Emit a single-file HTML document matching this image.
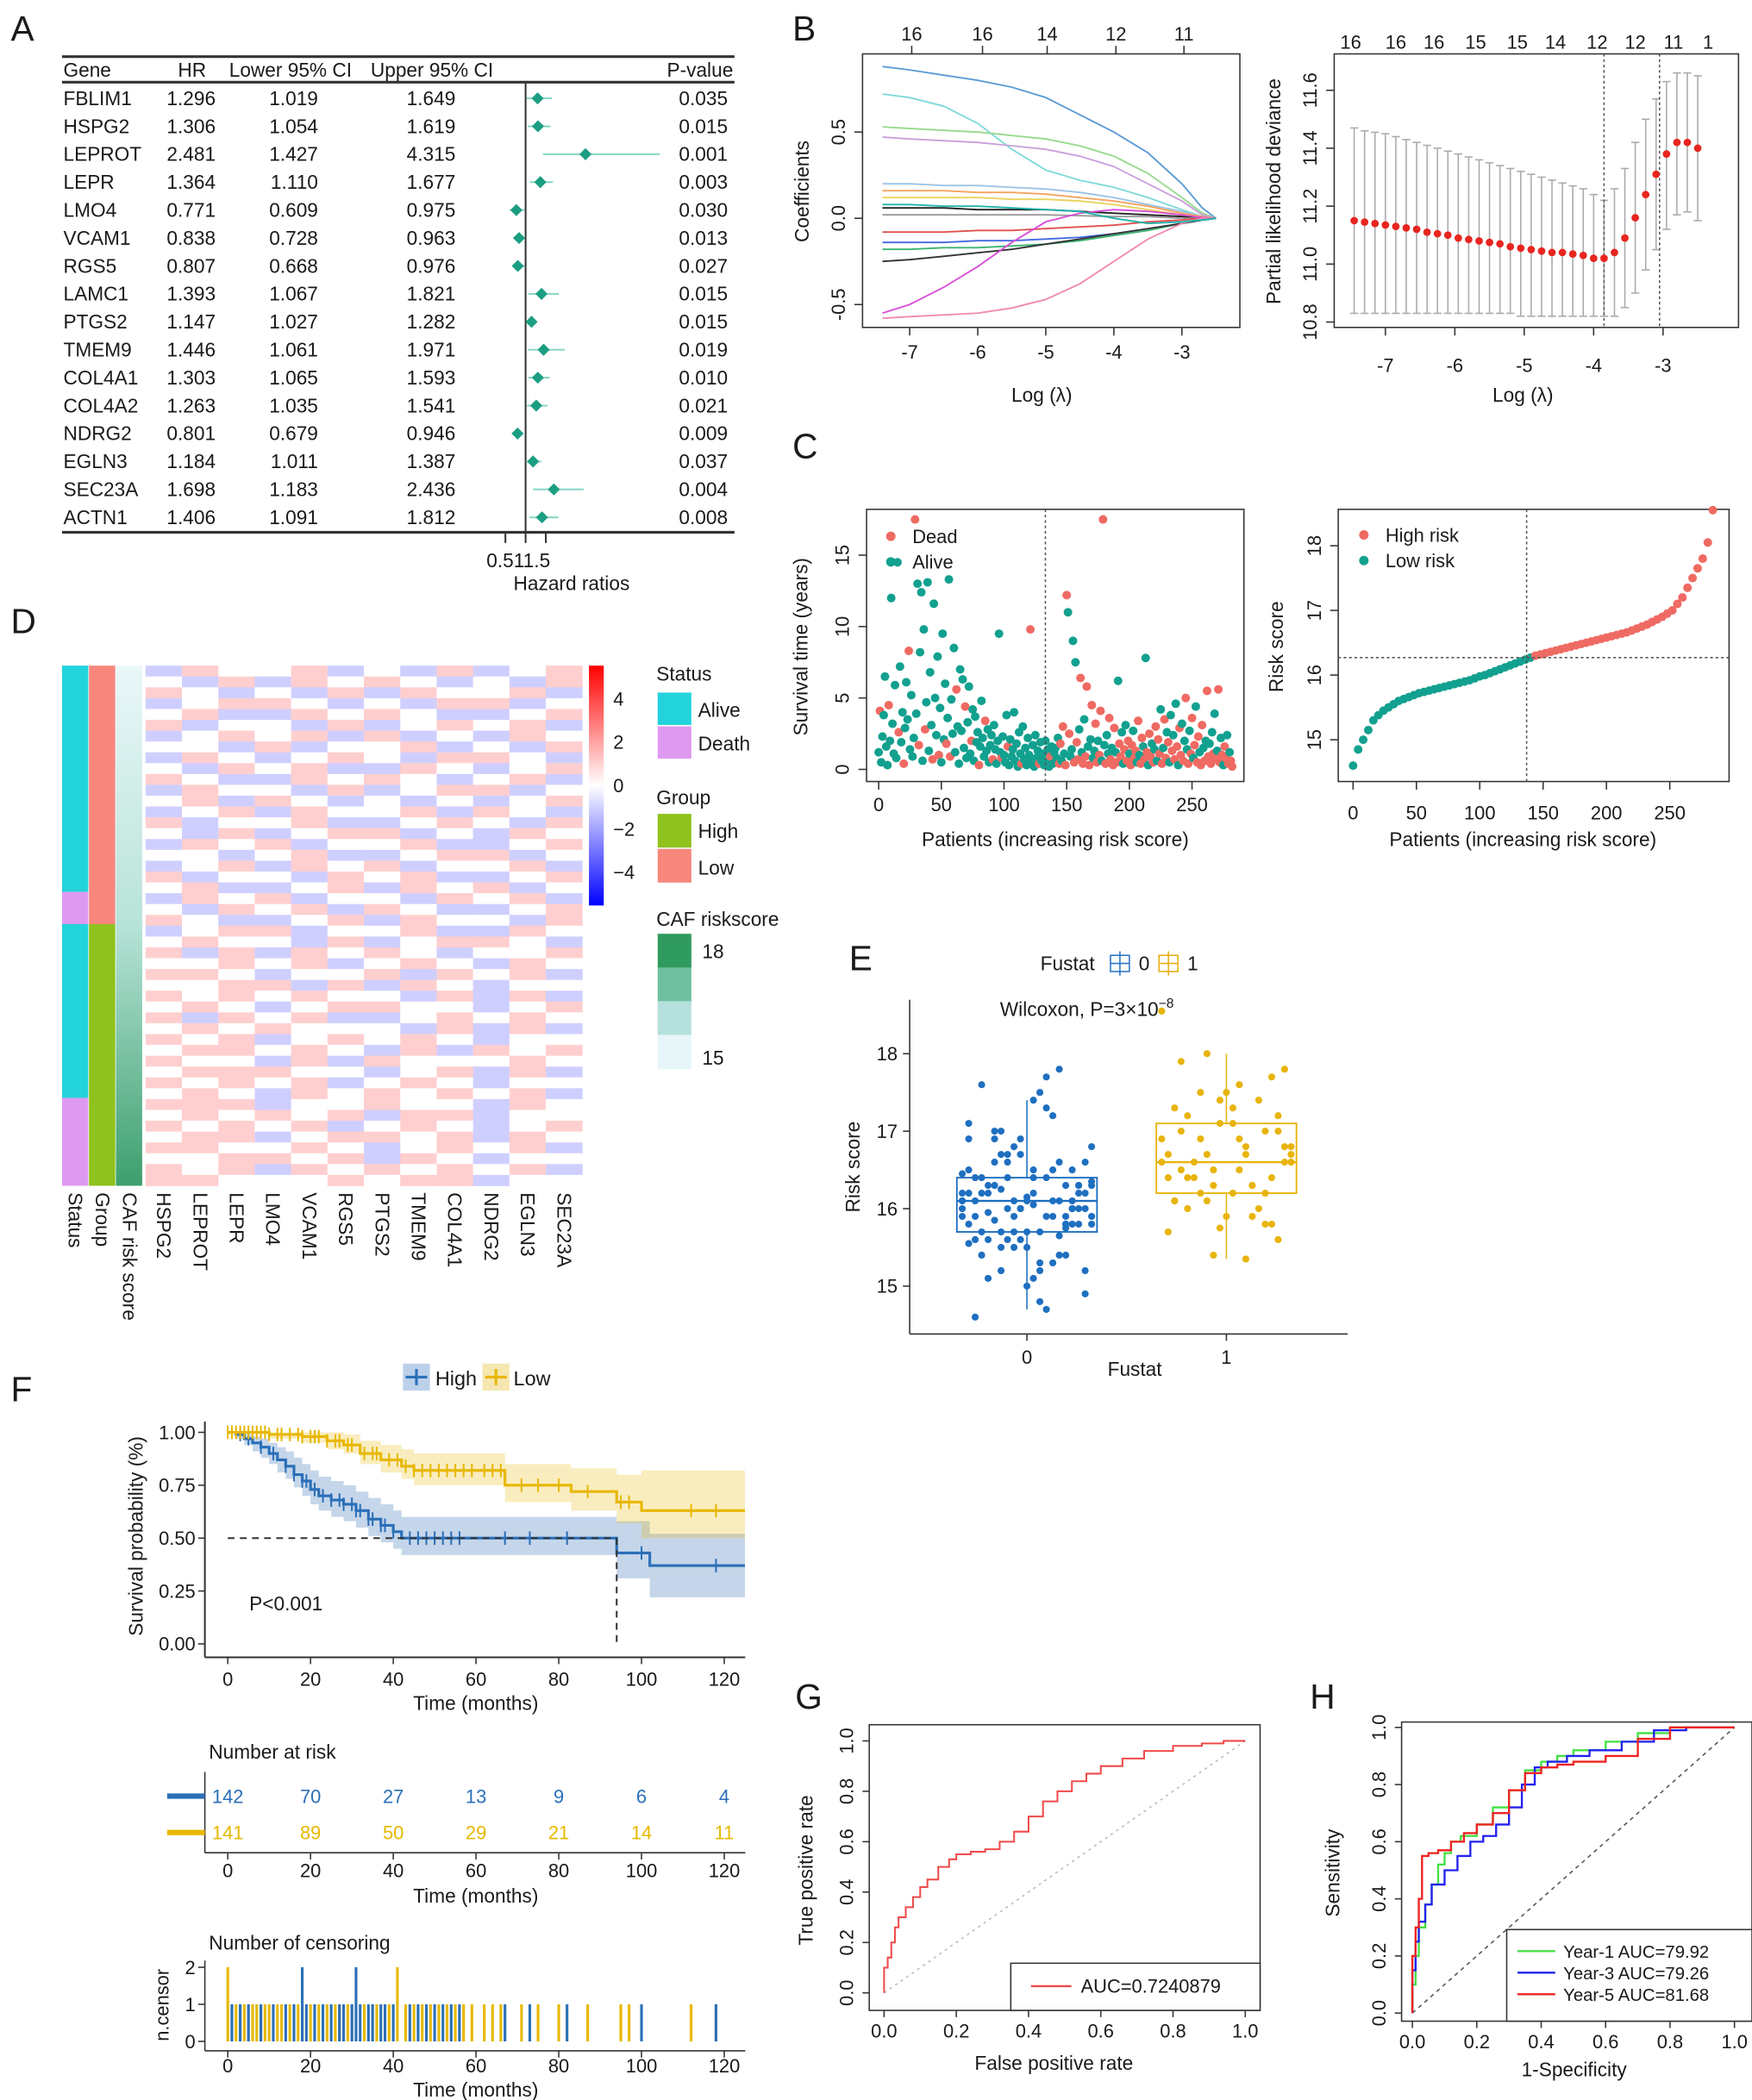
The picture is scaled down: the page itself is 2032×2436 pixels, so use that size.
<!DOCTYPE html>
<html><head><meta charset="utf-8"><style>
html,body{margin:0;padding:0;background:#fff;}
svg{display:block;font-family:"Liberation Sans",Arial,sans-serif;}
</style></head><body>
<svg id="fig" width="2032" height="2436" viewBox="0 0 1300 1558.5" xmlns="http://www.w3.org/2000/svg">
<rect x="0" y="0" width="1300" height="1558.5" fill="#fff"/>
</svg>
<script>
// ---------- DATA ----------
// Panel A
const genes=["FBLIM1","HSPG2","LEPROT","LEPR","LMO4","VCAM1","RGS5","LAMC1","PTGS2","TMEM9","COL4A1","COL4A2","NDRG2","EGLN3","SEC23A","ACTN1"];
const hrVals=[1.296,1.306,2.481,1.364,0.771,0.838,0.807,1.393,1.147,1.446,1.303,1.263,0.801,1.184,1.698,1.406];
const ciLow=[1.019,1.054,1.427,1.110,0.609,0.728,0.668,1.067,1.027,1.061,1.065,1.035,0.679,1.011,1.183,1.091];
const ciUp=[1.649,1.619,4.315,1.677,0.975,0.963,0.976,1.821,1.282,1.971,1.593,1.541,0.946,1.387,2.436,1.812];
const pVals=["0.035","0.015","0.001","0.003","0.030","0.013","0.027","0.015","0.015","0.019","0.010","0.021","0.009","0.037","0.004","0.008"];
// Panel B left
const lamGrid=[-7.4,-7,-6.5,-6,-5.5,-5,-4.5,-4,-3.5,-3,-2.7,-2.5];
const coefPaths=[
[0.88,0.86,0.83,0.8,0.76,0.7,0.6,0.5,0.38,0.2,0.06,0],
[0.72,0.7,0.65,0.55,0.4,0.28,0.22,0.18,0.12,0.05,0.01,0],
[0.53,0.52,0.51,0.5,0.48,0.46,0.42,0.36,0.26,0.12,0.03,0],
[0.47,0.46,0.45,0.44,0.42,0.4,0.36,0.3,0.2,0.1,0.02,0],
[0.2,0.2,0.19,0.19,0.18,0.17,0.15,0.12,0.08,0.04,0.01,0],
[0.16,0.16,0.16,0.15,0.15,0.14,0.12,0.1,0.07,0.03,0.01,0],
[0.12,0.12,0.12,0.12,0.11,0.11,0.1,0.08,0.05,0.02,0.005,0],
[0.06,0.06,0.06,0.05,0.05,0.05,0.04,0.03,0.02,0.01,0,0],
[0.02,0.02,0.02,0.02,0.02,0.02,0.015,0.01,0.01,0,0,0],
[-0.08,-0.08,-0.08,-0.07,-0.07,-0.06,-0.05,-0.04,-0.02,-0.01,0,0],
[-0.14,-0.14,-0.14,-0.13,-0.13,-0.12,-0.11,-0.09,-0.06,-0.03,-0.01,0],
[-0.18,-0.18,-0.17,-0.17,-0.16,-0.15,-0.13,-0.1,-0.07,-0.03,-0.01,0],
[-0.25,-0.24,-0.22,-0.2,-0.18,-0.15,-0.12,-0.09,-0.06,-0.03,-0.01,0],
[-0.55,-0.5,-0.4,-0.28,-0.14,-0.02,0.03,0.05,0.04,0.02,0.005,0],
[-0.58,-0.57,-0.56,-0.55,-0.52,-0.47,-0.38,-0.25,-0.12,-0.03,0,0],
[0.08,0.08,0.07,0.07,0.06,0.05,0.04,0.0,-0.03,-0.02,-0.01,0]];
const coefColors=["#5b9bd5","#7fd9d9","#98d98e","#c9a0dc","#9cc3e6","#f4a460","#e8d35c","#222","#999","#e05050","#4169e1","#3cb371","#333","#d84fd8","#f08ab4","#20b2aa"];
const topDfLeft=["16","16","14","12","11"];
const topDfLeftLam=[-6.97,-5.93,-4.98,-3.97,-2.97];
// Panel B right
const cvLam=[-7.45,-7.3,-7.15,-7.0,-6.85,-6.7,-6.55,-6.4,-6.25,-6.1,-5.95,-5.8,-5.65,-5.5,-5.35,-5.2,-5.05,-4.9,-4.75,-4.6,-4.45,-4.3,-4.15,-4.0,-3.85,-3.7,-3.55,-3.4,-3.25,-3.1,-2.95,-2.8,-2.65,-2.5];
const cvMean=[11.15,11.145,11.14,11.135,11.13,11.125,11.12,11.11,11.105,11.10,11.09,11.085,11.08,11.075,11.07,11.06,11.055,11.05,11.045,11.04,11.04,11.035,11.03,11.02,11.02,11.04,11.09,11.16,11.24,11.31,11.38,11.42,11.42,11.40];
const cvUp=[11.47,11.46,11.455,11.45,11.44,11.43,11.42,11.41,11.40,11.39,11.38,11.37,11.36,11.35,11.34,11.33,11.32,11.31,11.30,11.29,11.28,11.27,11.26,11.24,11.22,11.26,11.33,11.42,11.5,11.57,11.63,11.66,11.66,11.65];
const cvLo=[10.83,10.83,10.83,10.83,10.83,10.83,10.83,10.83,10.83,10.83,10.83,10.83,10.83,10.83,10.83,10.83,10.82,10.82,10.82,10.82,10.82,10.82,10.82,10.82,10.82,10.82,10.85,10.9,10.98,11.05,11.12,11.17,11.18,11.15];
const topDfRight=["16","16","16","15","15","14","12","12","11","1"];
const topDfRightLam=[-7.5,-6.85,-6.3,-5.7,-5.1,-4.55,-3.95,-3.4,-2.85,-2.35];
const cvMinLam=-3.85, cv1seLam=-3.05;
// Panel C
const survTimes=("1.2 4.1 0.5 2.3 3.8 6.5 1.6 0.3 4.5 2.0 12.0 3.2 1.1 5.9 0.8 14.5 2.6 7.2 1.9 4.0 0.4 2.9 6.1 3.5 8.3 1.4 5.2 0.9 2.2 17.5 "+
"3.9 13.0 1.7 8.2 12.4 0.6 9.8 2.8 4.7 13.1 1.3 6.8 3.1 0.7 11.6 5.0 2.4 7.9 1.0 4.3 0.5 9.5 2.1 6.0 1.8 3.6 13.3 0.9 4.9 2.5 "+
"8.5 1.2 5.6 3.0 0.4 7.0 2.7 6.3 1.5 4.4 0.8 3.3 5.8 1.1 2.0 4.2 0.6 3.7 1.9 2.6 0.3 1.6 4.8 2.2 0.9 3.4 1.3 2.8 0.5 1.7 "+
"2.4 0.7 3.1 1.4 0.4 2.0 9.5 1.2 0.8 2.3 1.0 0.5 3.8 1.6 0.3 2.1 0.9 1.4 4.0 0.6 1.8 0.2 2.6 1.1 0.4 3.0 0.7 1.5 0.3 2.2 "+
"1.0 9.8 0.5 1.7 0.2 2.4 0.8 1.3 0.4 1.9 0.6 1.1 0.3 2.0 0.5 1.4 0.2 0.9 1.6 0.4 1.2 "+
"1.5 0.8 2.2 0.4 1.8 0.6 3.0 1.1 0.3 12.2 11.0 2.5 0.9 1.4 9.0 0.5 7.5 1.9 0.7 2.8 6.4 1.2 0.4 3.5 0.9 5.8 1.6 0.3 2.1 4.5 "+
"0.8 1.3 3.2 0.5 2.0 1.0 4.1 0.6 17.5 1.7 0.4 2.4 1.1 3.6 0.7 1.5 0.3 2.9 1.2 0.5 6.2 1.8 0.9 2.6 0.4 1.4 3.1 0.6 2.0 1.1 "+
"0.3 1.7 2.7 0.8 1.3 0.5 3.4 1.0 0.4 2.2 1.6 0.7 7.8 1.2 0.3 2.5 0.9 1.8 0.5 1.4 3.0 0.6 2.1 1.1 4.2 0.4 1.5 3.5 0.8 2.6 "+
"1.9 0.5 3.8 1.3 2.4 0.7 4.6 1.6 0.3 2.9 1.0 3.2 0.6 2.0 5.0 1.4 0.4 2.7 1.1 3.6 0.8 1.7 4.4 0.5 2.3 1.2 0.3 3.1 1.5 0.6 "+
"2.0 5.5 0.9 1.8 0.4 2.6 1.1 3.9 0.7 1.3 5.6 0.5 2.2 1.0 0.3 1.6 0.8 2.4 0.4 1.2 0.6 0.2").split(" ").map(Number);
const survStatus=("0100000010000000100010001000010010000100000100001000001001000010000001000010000010000100000100000010000100000000001000000100000010000000010000001"+
"1010110100010110101011010100110110101001101101011001011011011010110101011010101101011010010101011010101011010110110101101010101101011010110101").split("").map(Number);
const cutIdx=141;
const riskSorted=[14.6,14.85,15.0,15.15,15.3,15.38,15.45,15.5,15.55,15.6,15.63,15.66,15.69,15.72,15.74,15.76,15.78,15.80,15.82,15.84,15.86,15.88,15.90,15.92,15.95,15.98,16.0,16.03,16.06,16.09,16.12,16.15,16.18,16.21,16.24,16.27,16.3,16.32,16.34,16.36,16.38,16.40,16.42,16.44,16.46,16.48,16.50,16.52,16.54,16.56,16.58,16.60,16.62,16.64,16.66,16.69,16.72,16.75,16.78,16.82,16.86,16.9,16.95,17.0,17.1,17.2,17.35,17.5,17.65,17.8,18.05,18.55];
const riskCut=16.27;
// Panel D
const heatGenes=["HSPG2","LEPROT","LEPR","LMO4","VCAM1","RGS5","PTGS2","TMEM9","COL4A1","NDRG2","EGLN3","SEC23A"];
const heatRows=["354453435345","435354543435","543435354453","345543435534","453354543345","534435345453","345453534354","443534453435","354345435543","435453354345",
"543354543453","354435345534","453543434345","345354453543","534453345435","435345534354","354534453345","443453345534","345354534453","534435453345",
"453345354534","354534435453","435453543345","543345354435","345534453354","454435345543","535354543445","445453454354","554344535453","445535354344",
"545454435353","454345544345","535453345454","454544435353","545345454344","455454353545","544353544454","455544345353","545453454344","454354545453",
"555344544354","454545355344","545453454345","455345545354","554454345453","445545354344","545354545453","554445455344"];
const statusSegs=[["Alive",0,0.435],["Death",0.435,0.497],["Alive",0.497,0.831],["Death",0.831,1]];
const groupSegs=[["Low",0,0.497],["High",0.497,1]];
const heatTicks=[4,2,0,-2,-4];
// Panel E
const fust0=("16.1 15.8 16.4 15.5 16.9 16.0 15.2 16.6 15.9 16.3 17.3 15.7 16.2 14.9 16.5 16.0 15.6 16.8 15.4 16.1 17.0 15.9 16.3 15.1 16.7 16.2 15.8 17.5 15.6 16.4 "+
"16.0 14.7 16.1 15.7 16.6 15.3 16.9 16.2 15.9 17.8 15.5 16.3 16.0 15.8 16.5 15.2 17.1 16.1 15.7 16.4 14.6 16.2 15.9 16.8 15.4 16.0 17.2 15.6 16.3 15.8 "+
"16.1 15.0 16.6 16.2 15.9 17.4 15.7 16.5 16.0 15.3 16.7 16.1 15.8 16.4 15.5 17.6 16.2 15.9 16.0 15.1 16.3 16.6 15.7 16.9 16.1 15.4 16.2 17.0 15.8 16.5 "+
"14.8 16.0 15.6 16.3 17.7 15.9 16.4 15.2 16.1 16.7 15.95 16.35 15.65 16.15 15.85 16.45 15.75 16.05 16.25 15.55").split(" ").map(Number);
const fust1=("16.6 17.0 16.2 17.5 16.4 15.8 16.9 18.0 16.1 17.2 16.7 15.4 16.5 17.8 16.3 17.1 16.0 16.8 17.4 15.9 16.6 18.55 16.2 17.3 16.9 15.7 16.4 17.6 16.7 16.1 "+
"17.0 15.35 16.5 17.9 16.8 16.3 15.75 17.2 16.6 16.0 17.5 16.4 16.9 15.8 17.1 16.2 16.7 17.7 16.5 16.1 17.3 15.6 16.8 16.3 17.0 16.6 15.9 17.4 16.4 16.7").split(" ").map(Number);
// Panel F
const highT=[0,2,4,6,8,10,12,14,16,18,20,22,25,28,31,34,37,40,42,94,102];
const highS=[1,0.99,0.97,0.95,0.93,0.9,0.87,0.84,0.8,0.77,0.73,0.7,0.68,0.66,0.63,0.59,0.56,0.53,0.5,0.43,0.37];
const highLo=[1,0.97,0.94,0.91,0.88,0.85,0.81,0.78,0.74,0.7,0.66,0.63,0.6,0.58,0.55,0.51,0.48,0.45,0.42,0.31,0.22];
const highHi=[1,1,0.99,0.98,0.97,0.95,0.93,0.91,0.88,0.85,0.82,0.79,0.77,0.75,0.72,0.69,0.66,0.63,0.6,0.58,0.52];
const lowT=[0,10,18,24,28,32,37,42,45,67,83,94,100];
const lowS=[1,0.99,0.98,0.96,0.94,0.9,0.87,0.84,0.82,0.75,0.72,0.67,0.63];
const lowLo=[1,0.97,0.95,0.92,0.9,0.85,0.81,0.78,0.75,0.67,0.63,0.57,0.5];
const lowHi=[1,1,1,1,0.99,0.96,0.94,0.92,0.9,0.85,0.83,0.8,0.82];
const censHigh=[1,3,5,8,11,14,16,18,19,21,23,25,27,28,30,31,32,34,35,37,38,40,44,46,48,50,52,54,56,67,73,82,100,118];
const censHighN=[1,1,1,1,1,1,1,2,1,1,1,1,1,1,1,2,1,1,1,1,1,1,1,1,1,1,1,1,1,1,1,1,1,1];
const censLow=[0,1,2,3,4,5,6,7,8,9,10,12,13,15,17,18,20,21,22,24,26,27,29,30,33,35,36,39,41,43,45,47,49,51,53,55,57,59,62,64,66,71,75,80,87,95,97,112,118];
const censLowN=[2,1,1,1,1,1,1,1,1,1,1,1,1,1,1,1,1,1,1,1,1,1,1,1,1,1,1,1,2,1,1,1,1,1,1,1,1,1,1,1,1,1,1,1,1,1,1,1,1];
const riskTimes=[0,20,40,60,80,100,120];
const atRiskHigh=[142,70,27,13,9,6,4];
const atRiskLow=[141,89,50,29,21,14,11];
// Panel G
const gFpr=[0,0,0.01,0.02,0.03,0.04,0.06,0.08,0.1,0.12,0.15,0.18,0.2,0.24,0.28,0.32,0.36,0.4,0.44,0.48,0.52,0.56,0.6,0.66,0.72,0.8,0.88,0.94,1];
const gTpr=[0,0.04,0.1,0.14,0.2,0.26,0.3,0.34,0.38,0.42,0.45,0.5,0.53,0.55,0.56,0.57,0.6,0.64,0.7,0.76,0.8,0.84,0.87,0.9,0.93,0.96,0.98,0.99,1];
// Panel H
const y1Fpr=[0,0.01,0.02,0.04,0.06,0.08,0.1,0.12,0.15,0.2,0.25,0.3,0.35,0.4,0.45,0.5,0.6,0.7,0.8,0.9,1];
const y1Tpr=[0,0.1,0.2,0.3,0.38,0.45,0.52,0.56,0.6,0.62,0.66,0.72,0.78,0.85,0.88,0.9,0.92,0.95,0.98,1,1];
const y3Fpr=[0,0.01,0.02,0.04,0.06,0.1,0.14,0.18,0.22,0.26,0.3,0.34,0.38,0.42,0.48,0.55,0.65,0.75,0.85,1];
const y3Tpr=[0,0.15,0.25,0.32,0.38,0.45,0.5,0.55,0.6,0.62,0.66,0.72,0.8,0.86,0.88,0.9,0.92,0.95,0.99,1];
const y5Fpr=[0,0.01,0.02,0.03,0.05,0.08,0.12,0.16,0.2,0.25,0.3,0.35,0.4,0.45,0.5,0.6,0.7,0.8,0.9,1];
const y5Tpr=[0,0.2,0.3,0.4,0.55,0.56,0.57,0.6,0.63,0.66,0.7,0.78,0.84,0.86,0.87,0.88,0.9,0.96,1,1];
const xTicks01=[0,0.2,0.4,0.6,0.8,1.0];

// ---------- HELPERS ----------
const NS='http://www.w3.org/2000/svg';
const svg=document.getElementById('fig');
function E(tag,a,name,p){
  const e=document.createElementNS(NS,tag);
  for(const k in a) e.setAttribute(k,a[k]);
  
  
  (p||svg).appendChild(e);
  return e;
}
function T(x,y,s,fs,name,extra){
  const e=E('text',Object.assign({x:x,y:y,'font-size':fs,fill:'#1a1a1a'},extra||{}),name);
  e.textContent=s;
  return e;
}
function TR(x,y,s,fs,name,extra){
  return T(x,y,s,fs,name,Object.assign({'text-anchor':'middle',transform:'rotate(-90 '+x+' '+y+')'},extra||{}));
}
function L(x1,y1,x2,y2,name,st,w,extra){
  return E('line',Object.assign({x1:x1,y1:y1,x2:x2,y2:y2,stroke:st||'#333','stroke-width':w||1},extra||{}),name);
}
function P(d,name,extra){return E('path',Object.assign({d:d,fill:'none'},extra||{}),name);}
function C(cx,cy,r,fill,name){return E('circle',{cx:cx,cy:cy,r:r,fill:fill},name);}
function label(x,y,s){return T(x,y,s,26,'panel-label-'+s);}

// ---------- PANEL A ----------
label(8,30,'A');
L(46,42,545,42,'table-top-rule','#333',2);
L(46,61,545,61,'table-header-rule','#333',2);
L(46,395,545,395,'table-bottom-rule','#333',2);
T(47,57,'Gene',14.5,'col-header-gene');
T(153,57,'HR',14.5,'col-header-hr',{'text-anchor':'end'});
T(170,57,'Lower 95% CI',14.5,'col-header-lower');
T(275,57,'Upper 95% CI',14.5,'col-header-upper');
T(544,57,'P-value',14.5,'col-header-pvalue',{'text-anchor':'end'});
const fx=v=>390+(v-1)*30;
L(fx(1),61,fx(1),395,'forest-reference-line','#333',1.3);
genes.forEach((g,i)=>{
  const y=78+i*20.73;
  T(47,y,g,14.5,'gene-'+g);
  T(160,y,hrVals[i].toFixed(3),14.5,'hr-'+g,{'text-anchor':'end'});
  T(236,y,ciLow[i].toFixed(3),14.5,'lower-ci-'+g,{'text-anchor':'end'});
  T(338,y,ciUp[i].toFixed(3),14.5,'upper-ci-'+g,{'text-anchor':'end'});
  T(540,y,pVals[i],14.5,'pvalue-'+g,{'text-anchor':'end'});
  const cy=y-5;
  L(fx(ciLow[i]),cy,fx(ciUp[i]),cy,'ci-bar-'+g,'#7fd3c0',1.2);
  const cx=fx(hrVals[i]);
  E('polygon',{points:(cx-4.5)+','+cy+' '+cx+','+(cy-4.5)+' '+(cx+4.5)+','+cy+' '+cx+','+(cy+4.5),fill:'#1b9e82'},'hr-marker-'+g);
});
[0.5,1,1.5].forEach(v=>L(fx(v),395,fx(v),403,'forest-tick-'+v,'#333',1.3));
T(361,421,'0.511.5',14.5,'forest-tick-labels');
T(381,438,'Hazard ratios',14.5,'forest-axis-title');

// ---------- PANEL B ----------
label(588,30,'B');
(function(){
  const x=l=>675+(l+7)*50.5, y=v=>162-v*128;
  E('rect',{x:640,y:40,width:280,height:203,fill:'none',stroke:'#333','stroke-width':1},'lasso-coef-frame');
  coefPaths.forEach((p,k)=>{
    P(p.map((v,i)=>(i?'L':'M')+x(lamGrid[i]).toFixed(1)+','+y(v).toFixed(1)).join(''),'coef-path-'+(k+1),{stroke:coefColors[k],'stroke-width':1.2});
  });
  [-7,-6,-5,-4,-3].forEach(t=>{L(x(t),243,x(t),249,'coef-xtick');T(x(t),266,String(t),14,'coef-xtick-label',{'text-anchor':'middle'});});
  [0.5,0,-0.5].forEach(t=>{L(640,y(t),634,y(t),'coef-ytick');TR(627,y(t),t.toFixed(1),14,'coef-ytick-label');});
  topDfLeftLam.forEach((l,i)=>{L(x(l),40,x(l),34,'coef-top-tick');T(x(l),30,topDfLeft[i],14,'coef-top-label',{'text-anchor':'middle'});});
  T(773,298,'Log (λ)',14.5,'coef-x-title',{'text-anchor':'middle'});
  TR(600,142,'Coefficients',14.5,'coef-y-title');
})();
(function(){
  const x=l=>1028+(l+7)*51.5, y=v=>196-(v-11)*215;
  E('rect',{x:990,y:40,width:300,height:203,fill:'none',stroke:'#333','stroke-width':1},'cv-frame');
  cvLam.forEach((l,i)=>{
    const xx=x(l);
    L(xx,y(cvLo[i]),xx,y(cvUp[i]),'cv-errorbar','#aaa',1);
    L(xx-3,y(cvLo[i]),xx+3,y(cvLo[i]),'cv-errorbar-cap','#aaa',1);
    L(xx-3,y(cvUp[i]),xx+3,y(cvUp[i]),'cv-errorbar-cap','#aaa',1);
  });
  L(x(cvMinLam),40,x(cvMinLam),243,'cv-lambda-min-line','#555',1,{'stroke-dasharray':'2,2'});
  L(x(cv1seLam),40,x(cv1seLam),243,'cv-lambda-1se-line','#555',1,{'stroke-dasharray':'2,2'});
  cvLam.forEach((l,i)=>C(x(l),y(cvMean[i]),2.8,'#e8251f','cv-mean-point'));
  [-7,-6,-5,-4,-3].forEach(t=>{L(x(t),243,x(t),249,'cv-xtick');T(x(t),276,String(t),14,'cv-xtick-label',{'text-anchor':'middle'});});
  [10.8,11.0,11.2,11.4,11.6].forEach(t=>{L(990,y(t),984,y(t),'cv-ytick');TR(977,y(t),t.toFixed(1),14,'cv-ytick-label');});
  topDfRightLam.forEach((l,i)=>{T(x(l),36,topDfRight[i],14,'cv-top-label',{'text-anchor':'middle'});});
  T(1130,298,'Log (λ)',14.5,'cv-x-title',{'text-anchor':'middle'});
  TR(950,142,'Partial likelihood deviance',14.5,'cv-y-title');
})();

// ---------- PANEL C ----------
label(588,340,'C');
(function(){
  const x=i=>652+i*0.93, y=t=>571-t*10.6;
  E('rect',{x:643,y:378,width:280,height:202,fill:'none',stroke:'#333','stroke-width':1},'survival-scatter-frame');
  survTimes.forEach((t,i)=>C(x(i),y(t),3.2,survStatus[i]?'#ef6a62':'#12a08f','patient-point'));
  L(x(cutIdx-8),378,x(cutIdx-8),580,'risk-cutoff-line','#555',1,{'stroke-dasharray':'2,2'});
  [0,50,100,150,200,250].forEach(t=>{L(x(t),580,x(t),586,'surv-xtick');T(x(t),602,String(t),14,'surv-xtick-label',{'text-anchor':'middle'});});
  [0,5,10,15].forEach(t=>{L(643,y(t),637,y(t),'surv-ytick');TR(630,y(t),String(t),14,'surv-ytick-label');});
  C(661,398,3.5,'#ef6a62','legend-dead-dot');T(677,403,'Dead',14,'legend-dead-label');
  C(661,417,3.5,'#12a08f','legend-alive-dot');T(677,422,'Alive',14,'legend-alive-label');
  T(783,628,'Patients (increasing risk score)',14.5,'surv-x-title',{'text-anchor':'middle'});
  TR(599,480,'Survival time (years)',14.5,'surv-y-title');
})();
(function(){
  const x=i=>1004+i*0.94, y=v=>501-(v-16)*48;
  E('rect',{x:993,y:378,width:290,height:202,fill:'none',stroke:'#333','stroke-width':1},'risk-curve-frame');
  riskSorted.forEach((v,k)=>C(x(k*4),y(v),3.2,v>riskCut?'#ef6a62':'#12a08f','risk-point'));
  L(993,y(riskCut),1283,y(riskCut),'risk-cutoff-hline','#555',1,{'stroke-dasharray':'2,2'});
  L(x(cutIdx-4),378,x(cutIdx-4),580,'risk-cutoff-vline','#555',1,{'stroke-dasharray':'2,2'});
  [0,50,100,150,200,250].forEach(t=>{L(x(t),580,x(t),586,'risk-xtick');T(x(t),608,String(t),14,'risk-xtick-label',{'text-anchor':'middle'});});
  [15,16,17,18].forEach(t=>{L(993,y(t),987,y(t),'risk-ytick');TR(980,y(t),String(t),14,'risk-ytick-label');});
  C(1012,397,3.5,'#ef6a62','legend-high-risk-dot');T(1028,402,'High risk',14,'legend-high-risk-label');
  C(1012,416,3.5,'#12a08f','legend-low-risk-dot');T(1028,421,'Low risk',14,'legend-low-risk-label');
  T(1130,628,'Patients (increasing risk score)',14.5,'risk-x-title',{'text-anchor':'middle'});
  TR(952,480,'Risk score',14.5,'risk-y-title');
})();

// ---------- PANEL D ----------
label(8,470,'D');
(function(){
  const top=494,bot=880,H=bot-top;
  const stCol={Alive:'#22d3dc',Death:'#de9af0'}, grCol={High:'#8fc21c',Low:'#f7877d'};
  statusSegs.forEach(s=>E('rect',{x:46,y:top+s[1]*H,width:19.5,height:(s[2]-s[1])*H,fill:stCol[s[0]]},'status-annotation-'+s[0]));
  groupSegs.forEach(s=>E('rect',{x:66,y:top+s[1]*H,width:19.5,height:(s[2]-s[1])*H,fill:grCol[s[0]]},'group-annotation-'+s[0]));
  const defs=E('defs',{},'defs');
  const lg=E('linearGradient',{id:'cafg',x1:0,y1:0,x2:0,y2:1},'caf-gradient',defs);
  [['0','#eaf7f9'],['0.5','#b7e3d8'],['1','#3d9f6e']].forEach(s=>E('stop',{offset:s[0],'stop-color':s[1]},'caf-stop',lg));
  E('rect',{x:86,y:top,width:19.5,height:H,fill:'url(#cafg)'},'caf-score-annotation');
  const cw=(432-108)/12, rh=H/heatRows.length;
  function col(v){
    const t=Math.min(1,Math.abs(v)/4);
    if(v>=0) return 'rgb(255,'+Math.round(255-t*255)+','+Math.round(255-t*255)+')';
    return 'rgb('+Math.round(255-t*255)+','+Math.round(255-t*255)+',255)';
  }
  heatRows.forEach((r,i)=>{
    r.split('').forEach((d,j)=>{
      const v=(Number(d)-4)*0.75;
      E('rect',{x:108+j*cw,y:top+i*rh,width:cw+0.3,height:rh+0.3,fill:col(v)},'heat-cell');
    });
  });
  const lg2=E('linearGradient',{id:'heatg',x1:0,y1:0,x2:0,y2:1},'heat-legend-gradient',defs);
  [['0','#ff0000'],['0.5','#ffffff'],['1','#0000ff']].forEach(s=>E('stop',{offset:s[0],'stop-color':s[1]},'heat-stop',lg2));
  E('rect',{x:437,y:494,width:11,height:178,fill:'url(#heatg)'},'heat-color-legend');
  heatTicks.forEach(t=>{const yy=583-t*16.1;L(448,yy,451,yy,'heat-legend-tick','#fff');T(455,yy+5,(t<0?'−':'')+Math.abs(t),14,'heat-legend-label');});
  T(487,505,'Status',14.5,'status-legend-title');
  E('rect',{x:488,y:514,width:25,height:24,fill:'#22d3dc'},'legend-alive-swatch');T(518,532,'Alive',14.5,'legend-alive');
  E('rect',{x:488,y:539,width:25,height:24,fill:'#de9af0'},'legend-death-swatch');T(518,557,'Death',14.5,'legend-death');
  T(487,597,'Group',14.5,'group-legend-title');
  E('rect',{x:488,y:604,width:25,height:25,fill:'#8fc21c'},'legend-high-swatch');T(518,622,'High',14.5,'legend-high');
  E('rect',{x:488,y:630,width:25,height:25,fill:'#f7877d'},'legend-low-swatch');T(518,649,'Low',14.5,'legend-low');
  T(487,687,'CAF riskscore',14.5,'caf-legend-title');
  [['#2f9a5e',693],['#6fc0a0',718],['#b5e0dc',743],['#e7f6f9',768]].forEach((c,i)=>E('rect',{x:488,y:c[1],width:25,height:25.5,fill:c[0]},'caf-legend-swatch'));
  T(521,711,'18',14.5,'caf-legend-18');T(521,790,'15',14.5,'caf-legend-15');
  const labs=[['Status',56],['Group',76],['CAF risk score',96]].concat(heatGenes.map((g,j)=>[g,108+cw*j+cw/2]));
  labs.forEach(l=>T(l[1]-5,885,l[0],14.5,'heatmap-col-label',{transform:'rotate(90 '+(l[1]-5)+' 885)'}));
})();

// ---------- PANEL E ----------
label(630,720,'E');
(function(){
  const y=v=>897-(v-16)*57.5, x0=762, x1=910;
  T(772,720,'Fustat',14.5,'fustat-legend-title');
  E('rect',{x:824,y:709,width:14,height:12,fill:'none',stroke:'#2a74c4'},'legend-fustat0-box');L(824,715,838,715,'legend-fustat0-line','#2a74c4');L(831,706,831,724,'legend-fustat0-whisker','#2a74c4');
  T(845,720,'0',14.5,'legend-fustat0-label');
  E('rect',{x:860,y:709,width:14,height:12,fill:'none',stroke:'#e6b010'},'legend-fustat1-box');L(860,715,874,715,'legend-fustat1-line','#e6b010');L(867,706,867,724,'legend-fustat1-whisker','#e6b010');
  T(881,720,'1',14.5,'legend-fustat1-label');
  const w=T(742,754,'Wilcoxon, P=3×10',14.5,'wilcoxon-annotation');
  const sup=document.createElementNS(NS,'tspan');
  
  
  sup.setAttribute('dy','-6');
  sup.setAttribute('font-size','10');
  sup.textContent='−8';
  w.appendChild(sup);
  L(675,742,675,990,'e-y-axis','#333');L(675,990,1000,990,'e-x-axis','#333');
  [15,16,17,18].forEach(t=>{L(675,y(t),670,y(t),'e-ytick');T(666,y(t)+5,String(t),14,'e-ytick-label',{'text-anchor':'end'});});
  [[x0,'0'],[x1,'1']].forEach(a=>{L(a[0],990,a[0],995,'e-xtick');T(a[0],1012,a[1],14,'e-xtick-label',{'text-anchor':'middle'});});
  T(842,1021,'Fustat',14.5,'e-x-title',{'text-anchor':'middle'});
  TR(638,866,'Risk score',14.5,'e-y-title');
  function q(a,p){const s=a.slice().sort((m,n)=>m-n);const i=(s.length-1)*p;const lo=Math.floor(i);return s[lo]+(s[Math.min(lo+1,s.length-1)]-s[lo])*(i-lo);}
  function box(data,cx,color,name){
    const q1=q(data,0.25),md=q(data,0.5),q3=q(data,0.75),iqr=q3-q1;
    const lo=Math.min(...data.filter(v=>v>=q1-1.5*iqr)),hi=Math.max(...data.filter(v=>v<=q3+1.5*iqr));
    L(cx,y(hi),cx,y(q3),name+'-upper-whisker',color);L(cx,y(q1),cx,y(lo),name+'-lower-whisker',color);
    E('rect',{x:cx-52,y:y(q3),width:104,height:y(q1)-y(q3),fill:'none',stroke:color,'stroke-width':1.2},name+'-box');
    L(cx-52,y(md),cx+52,y(md),name+'-median',color,1.5);
    data.forEach((v,k)=>C(cx+(((k*37)%21)-10)*4.8,y(v),2.6,color,name+'-point'));
  }
  box(fust0,x0,'#1f6fc0','fustat0');
  box(fust1,x1,'#e8b40c','fustat1');
})();

// ---------- PANEL F ----------
label(8,1040,'F');
(function(){
  const x=t=>169+t*3.07, y=s=>1220-s*157, xEnd=125;
  E('rect',{x:299,y:1012,width:20,height:20,fill:'#bcd0ea'},'legend-high-key-bg');L(301,1022,317,1022,'legend-high-key','#2a6fb8',2);L(309,1016,309,1028,'legend-high-key-tick','#2a6fb8',2);
  T(323,1028,'High',15,'legend-high-label');
  E('rect',{x:358,y:1012,width:20,height:20,fill:'#f6e6b0'},'legend-low-key-bg');L(360,1022,376,1022,'legend-low-key','#e7b800',2);L(368,1016,368,1028,'legend-low-key-tick','#e7b800',2);
  T(381,1028,'Low',15,'legend-low-label');
  function band(T_,lo,hi,fill,name){
    let d='M'+x(T_[0])+','+y(hi[0]);
    for(let i=0;i<T_.length;i++){const xn=x(i+1<T_.length?T_[i+1]:xEnd);d+='L'+x(T_[i])+','+y(hi[i])+'L'+xn+','+y(hi[i]);}
    for(let i=T_.length-1;i>=0;i--){const xn=x(i+1<T_.length?T_[i+1]:xEnd);d+='L'+xn+','+y(lo[i])+'L'+x(T_[i])+','+y(lo[i]);}
    P(d+'Z',name,{fill:fill,stroke:'none'});
  }
  band(highT,highLo,highHi,'rgba(46,109,180,0.28)','high-ci-band');
  band(lowT,lowLo,lowHi,'rgba(231,184,0,0.25)','low-ci-band');
  function curve(T_,S,color,name){
    let d='M'+x(T_[0])+','+y(S[0]);
    for(let i=0;i<T_.length;i++){const xn=x(i+1<T_.length?T_[i+1]:xEnd);d+='L'+xn+','+y(S[i]);if(i+1<T_.length)d+='L'+xn+','+y(S[i+1]);}
    P(d,name,{stroke:color,'stroke-width':2});
  }
  function sAt(T_,S,t){let s=S[0];for(let i=0;i<T_.length;i++)if(T_[i]<=t)s=S[i];return s;}
  curve(highT,highS,'#2a6fb8','high-km-curve');
  curve(lowT,lowS,'#e7b800','low-km-curve');
  censHigh.forEach(t=>{if(t<=xEnd)L(x(t),y(sAt(highT,highS,t))-5,x(t),y(sAt(highT,highS,t))+5,'high-censor-mark','#2a6fb8',1.3);});
  censLow.forEach(t=>{if(t<=xEnd)L(x(t),y(sAt(lowT,lowS,t))-5,x(t),y(sAt(lowT,lowS,t))+5,'low-censor-mark','#e7b800',1.3);});
  L(x(0),y(0.5),x(94),y(0.5),'median-hline','#333',1.3,{'stroke-dasharray':'5,4'});
  L(x(94),y(0.5),x(94),y(0),'median-vline','#333',1.3,{'stroke-dasharray':'5,4'});
  L(152,1055,152,1230,'km-y-axis','#333',1.3);L(152,1230,553,1230,'km-x-axis','#333',1.3);
  [0,0.25,0.5,0.75,1].forEach(s=>{L(152,y(s),147,y(s),'km-ytick');T(145,y(s)+5,s.toFixed(2),14,'km-ytick-label',{'text-anchor':'end'});});
  riskTimes.forEach(t=>{L(x(t),1230,x(t),1235,'km-xtick');T(x(t),1251,String(t),14,'km-xtick-label',{'text-anchor':'middle'});});
  T(353,1269,'Time (months)',14.5,'km-x-title',{'text-anchor':'middle'});
  TR(106,1140,'Survival probability (%)',14.5,'km-y-title');
  T(185,1195,'P<0.001',14.5,'logrank-pvalue');
  T(155,1305,'Number at risk',14.5,'risk-table-title');
  L(152,1315,152,1375,'risk-table-y-axis');L(152,1375,553,1375,'risk-table-x-axis');
  L(124,1333,152,1333,'risk-table-high-key','#2a6fb8',4);L(124,1360,152,1360,'risk-table-low-key','#e7b800',4);
  riskTimes.forEach((t,i)=>{
    T(x(t),1338,String(atRiskHigh[i]),14,'at-risk-high',{'text-anchor':'middle',fill:'#2a6fb8'});
    T(x(t),1365,String(atRiskLow[i]),14,'at-risk-low',{'text-anchor':'middle',fill:'#e7b800'});
    L(x(t),1375,x(t),1380,'risk-table-xtick');T(x(t),1393,String(t),14,'risk-table-xtick-label',{'text-anchor':'middle'});
  });
  T(353,1412,'Time (months)',14.5,'risk-table-x-title',{'text-anchor':'middle'});
  T(155,1447,'Number of censoring',14.5,'censor-plot-title');
  const yc=n=>1515-n*27.5;
  L(152,1455,152,1522,'censor-y-axis');L(152,1522,553,1522,'censor-x-axis');
  [0,1,2].forEach(n=>{L(152,yc(n),147,yc(n),'censor-ytick');T(145,yc(n)+5,String(n),14,'censor-ytick-label',{'text-anchor':'end'});});
  censLow.forEach((t,i)=>L(x(t),yc(0),x(t),yc(censLowN[i]),'censor-bar-low','#e7b800',2));
  censHigh.forEach((t,i)=>L(x(t),yc(0),x(t),yc(censHighN[i]),'censor-bar-high','#2a6fb8',2));
  riskTimes.forEach(t=>{L(x(t),1522,x(t),1527,'censor-xtick');T(x(t),1538,String(t),14,'censor-xtick-label',{'text-anchor':'middle'});});
  T(353,1556,'Time (months)',14.5,'censor-x-title',{'text-anchor':'middle'});
  TR(125,1488,'n.censor',14,'censor-y-title');
})();

// ---------- PANEL G ----------
label(590,1268,'G');
(function(){
  const x=v=>656+v*268, y=v=>1479-v*187;
  E('rect',{x:645,y:1280,width:290,height:212,fill:'none',stroke:'#333'},'roc-frame');
  L(x(0),y(0),x(1),y(1),'roc-diagonal','#bbb',1,{'stroke-dasharray':'2,3'});
  let d='M'+x(gFpr[0])+','+y(gTpr[0]);
  for(let i=1;i<gFpr.length;i++) d+='L'+x(gFpr[i-1])+','+y(gTpr[i])+'L'+x(gFpr[i])+','+y(gTpr[i]);
  P(d,'roc-curve',{stroke:'#ef4a4a','stroke-width':1.3});
  xTicks01.forEach(t=>{L(x(t),1492,x(t),1497,'roc-xtick');T(x(t),1512,t.toFixed(1),14,'roc-xtick-label',{'text-anchor':'middle'});});
  xTicks01.forEach(t=>{L(645,y(t),640,y(t),'roc-ytick');TR(633,y(t),t.toFixed(1),14,'roc-ytick-label');});
  E('rect',{x:750,y:1457,width:185,height:35,fill:'#fff',stroke:'#333'},'roc-legend-box');
  L(765,1474,795,1474,'roc-legend-line','#ef4a4a',1.5);
  T(802,1479,'AUC=0.7240879',14,'roc-legend-label');
  T(782,1536,'False positive rate',14.5,'roc-x-title',{'text-anchor':'middle'});
  TR(603,1388,'True positive rate',14.5,'roc-y-title');
})();

// ---------- PANEL H ----------
label(972,1268,'H');
(function(){
  const x=v=>1048+v*239, y=v=>1494-v*212;
  E('rect',{x:1040,y:1278,width:260,height:222,fill:'none',stroke:'#333'},'troc-frame');
  L(x(0),y(0),x(1),y(1),'troc-diagonal','#555',1,{'stroke-dasharray':'3,3'});
  function rc(F,Tp,color,name){let d='M'+x(F[0])+','+y(Tp[0]);for(let i=1;i<F.length;i++)d+='L'+x(F[i-1])+','+y(Tp[i])+'L'+x(F[i])+','+y(Tp[i]);P(d,name,{stroke:color,'stroke-width':1.5});}
  rc(y1Fpr,y1Tpr,'#44e044','year1-roc');
  rc(y3Fpr,y3Tpr,'#2222ee','year3-roc');
  rc(y5Fpr,y5Tpr,'#ee2222','year5-roc');
  xTicks01.forEach(t=>{L(x(t),1500,x(t),1505,'troc-xtick');T(x(t),1520,t.toFixed(1),14,'troc-xtick-label',{'text-anchor':'middle'});});
  xTicks01.forEach(t=>{L(1040,y(t),1035,y(t),'troc-ytick');TR(1028,y(t),t.toFixed(1),14,'troc-ytick-label');});
  E('rect',{x:1118,y:1432,width:182,height:68,fill:'#fff',stroke:'#333'},'troc-legend-box');
  [['#44e044','Year-1 AUC=79.92'],['#2222ee','Year-3 AUC=79.26'],['#ee2222','Year-5 AUC=81.68']].forEach((l,i)=>{
    L(1126,1448+i*16,1154,1448+i*16,'troc-legend-line',l[0],1.5);
    T(1160,1453+i*16,l[1],13,'troc-legend-label');
  });
  T(1168,1541,'1-Specificity',14.5,'troc-x-title',{'text-anchor':'middle'});
  TR(994,1390,'Sensitivity',14.5,'troc-y-title');
})();
</script>
</body></html>
